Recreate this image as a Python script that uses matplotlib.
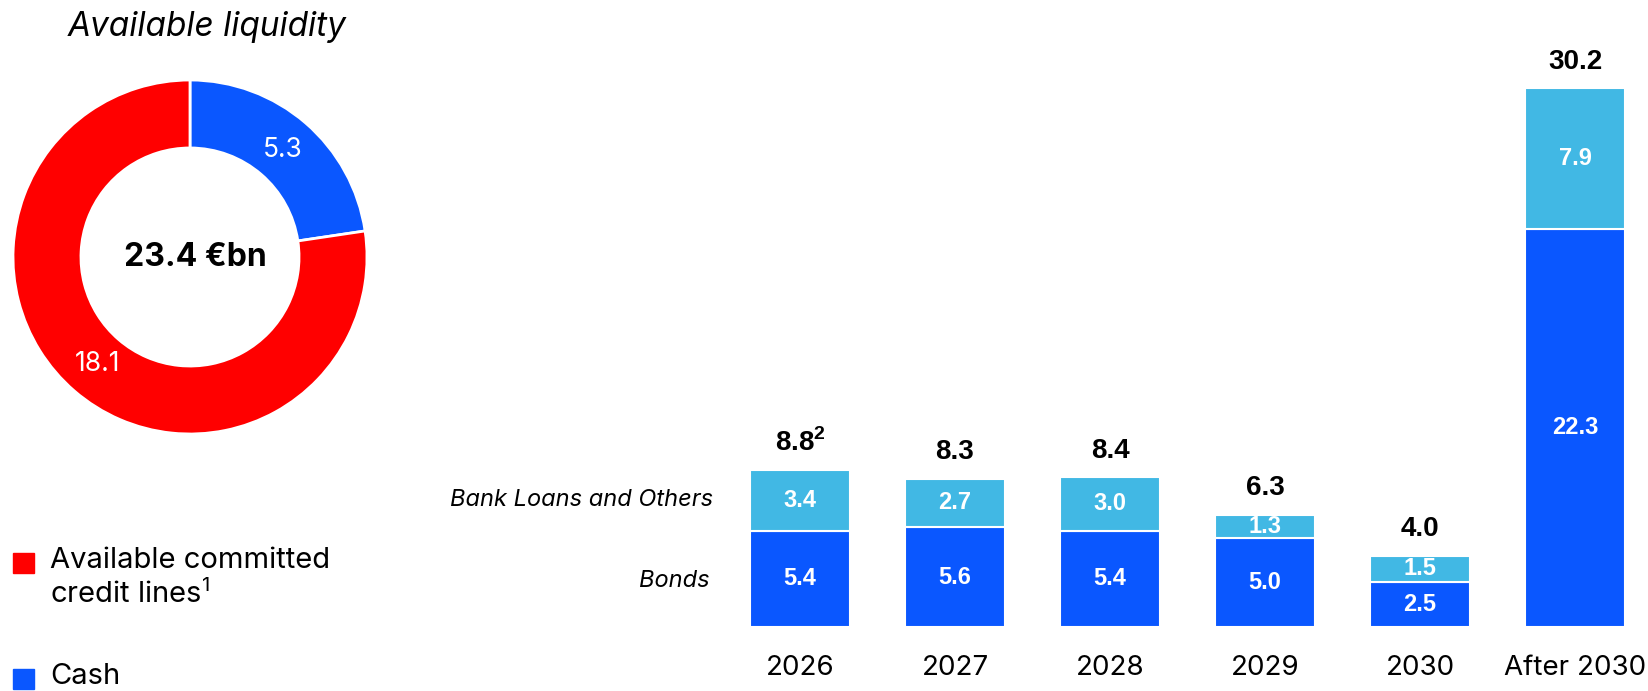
import matplotlib
matplotlib.use('Agg')
import matplotlib.pyplot as plt
from matplotlib.patches import Rectangle

# donut data
liq_labels = ['Cash', 'Available committed\ncredit lines$^{1}$']
liq_values = [5.3, 18.1]
liq_total = '23.4 €bn'

# debt maturity data
years = ['2026', '2027', '2028', '2029', '2030', 'After 2030']
bonds = [5.4, 5.6, 5.4, 5.0, 2.5, 22.3]
bank_loans = [3.4, 2.7, 3.0, 1.3, 1.5, 7.9]
totals = ['8.8', '8.3', '8.4', '6.3', '4.0', '30.2']
total_notes = ['2', '', '', '', '', '']

RED = '#FF0000'
BLUE = '#0A57FF'
LIGHT = '#41B8E4'
TEXT_FONT = ['Inter', 'DejaVu Sans']
NUM_FONT = ['Liberation Sans', 'DejaVu Sans']

plt.rcParams['mathtext.fontset'] = 'custom'
plt.rcParams['mathtext.rm'] = 'Inter'
plt.rcParams['mathtext.bf'] = 'Liberation Sans:bold'

W, H = 1648, 691
fig = plt.figure(figsize=(W / 100, H / 100), dpi=100)

# ---- donut ----
cx, cy, r = 190, 257, 177
ax1 = fig.add_axes([(cx - r) / W, (H - cy - r) / H, 2 * r / W, 2 * r / H])
total = sum(liq_values)
wedges, _, autotexts = ax1.pie(
    liq_values, colors=[BLUE, RED], startangle=90, counterclock=False,
    wedgeprops=dict(width=0.384, edgecolor='white', linewidth=2),
    autopct=lambda p: f'{p * total / 100:.1f}', pctdistance=0.8)
for t in autotexts:
    t.set_color('white')
    t.set_fontsize(19)
    t.set_family(TEXT_FONT)
ax1.set_xlim(-1, 1)
ax1.set_ylim(-1, 1)
ax1.text(0.03, 0, liq_total, ha='center', va='center', fontsize=23,
         fontweight='bold', family=TEXT_FONT)
fig.text(207 / W, 1 - 27 / H, 'Available liquidity', ha='center', va='center',
         fontsize=24, style='italic', family=TEXT_FONT)

# legend (red first, then blue)
leg_items = [(liq_labels[1], RED, 563), (liq_labels[0], BLUE, 679)]
for label, color, yc in leg_items:
    fig.patches.append(Rectangle((13 / W, 1 - (yc + 10) / H), 21 / W, 20 / H,
                                 transform=fig.transFigure, color=color))
    fig.text(50 / W, 1 - (yc - 16) / H, label, ha='left', va='top',
             fontsize=21, family=TEXT_FONT, linespacing=1.2)

# ---- stacked bars ----
base_px, top_px = 627, 40
left_px, right_px = 440, 1640
x0_px, step_px = 800, 155
ppu = 17.85
ax2 = fig.add_axes([left_px / W, (H - base_px) / H, (right_px - left_px) / W,
                    (base_px - top_px) / H])
x = list(range(len(years)))
ax2.bar(x, bonds, width=0.645, color=BLUE, edgecolor='white', linewidth=1.5)
ax2.bar(x, bank_loans, bottom=bonds, width=0.645, color=LIGHT,
        edgecolor='white', linewidth=1.5)
ax2.set_xlim((left_px - x0_px) / step_px, (right_px - x0_px) / step_px)
ax2.set_ylim(0, (base_px - top_px) / ppu)
ax2.axis('off')

for i in x:
    ax2.text(i, bonds[i] / 2, f'{bonds[i]:.1f}', ha='center', va='center',
             color='white', fontsize=17, fontweight='bold', family=NUM_FONT)
    ax2.text(i, bonds[i] + bank_loans[i] / 2, f'{bank_loans[i]:.1f}',
             ha='center', va='center', color='white', fontsize=17,
             fontweight='bold', family=NUM_FONT)
    label = totals[i]
    if total_notes[i]:
        label += r'$^{\mathbf{' + total_notes[i] + '}}$'
    ax2.text(i, bonds[i] + bank_loans[i] + 0.75, label, ha='center',
             va='bottom', fontsize=20, fontweight='bold', family=NUM_FONT)
    ax2.text(i, -2.3, years[i], ha='center', va='center', fontsize=20,
             family=TEXT_FONT)

ax2.text(-0.56, bonds[0] + bank_loans[0] / 2, 'Bank Loans and Others',
         ha='right', va='center', fontsize=17, style='italic', family=TEXT_FONT)
ax2.text(-0.58, bonds[0] / 2 - 0.15, 'Bonds', ha='right', va='center',
         fontsize=17, style='italic', family=TEXT_FONT)

fig.savefig('out.png', dpi=100)
